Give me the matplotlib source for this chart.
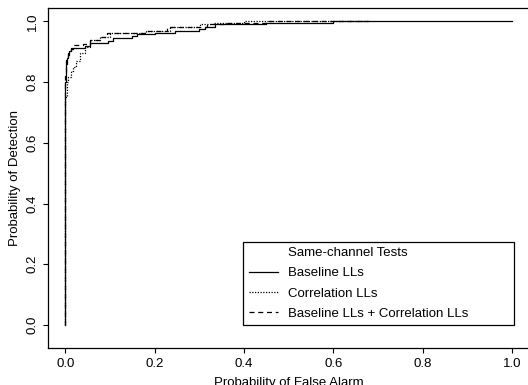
import matplotlib
matplotlib.use("Agg")
import matplotlib.pyplot as plt
from matplotlib.lines import Line2D

plt.rcParams['font.family'] = ['Liberation Sans', 'DejaVu Sans']

# Baseline LLs (solid)
base_fa = [0.0, 0.0, 0.001, 0.003, 0.005, 0.008, 0.012, 0.044, 0.055, 0.096, 0.107,
           0.150, 0.160, 0.200, 0.246, 0.300, 0.313, 0.335, 0.45, 0.60, 1.0]
base_pd = [0.0, 0.80, 0.86, 0.88, 0.895, 0.903, 0.911, 0.918, 0.927, 0.935, 0.944,
           0.950, 0.957, 0.962, 0.969, 0.975, 0.982, 0.991, 0.996, 1.0, 1.0]

# Correlation LLs (dotted)
corr_fa = [0.0, 0.0, 0.003, 0.007, 0.012, 0.018, 0.025, 0.033, 0.044, 0.055, 0.078,
           0.100, 0.165, 0.180, 0.234, 0.302, 0.330, 0.40, 0.68]
corr_pd = [0.0, 0.75, 0.80, 0.818, 0.835, 0.85, 0.87, 0.895, 0.916, 0.938, 0.949,
           0.960, 0.962, 0.969, 0.980, 0.991, 0.995, 1.0, 1.0]

# Baseline LLs + Correlation LLs (dashed)
comb_fa = [0.0, 0.0, 0.002, 0.005, 0.008, 0.012, 0.018, 0.040, 0.055, 0.078, 0.093,
           0.160, 0.180, 0.227, 0.317, 0.361, 0.45, 0.68]
comb_pd = [0.0, 0.82, 0.872, 0.89, 0.90, 0.91, 0.922, 0.925, 0.94, 0.947, 0.96,
           0.962, 0.969, 0.982, 0.990, 0.995, 1.0, 1.0]

ticks = [0.0, 0.2, 0.4, 0.6, 0.8, 1.0]
tick_labels = ["0.0", "0.2", "0.4", "0.6", "0.8", "1.0"]
legend_title = "Same-channel Tests"
series_labels = ["Baseline LLs", "Correlation LLs", "Baseline LLs + Correlation LLs"]
xlabel = "Probability of False Alarm"
ylabel = "Probability of Detection"

W, H = 528, 385
FS = 9.5
fig = plt.figure(figsize=(W / 100, H / 100), dpi=100)
left, right, top, bottom = 47.5, 530.0, 8.0, 348.0
ax = fig.add_axes([left / W, (H - bottom) / H, (right - left) / W, (bottom - top) / H])

lw = 0.9
dot = (0, (1, 1.2))
dash = (0, (4, 3))
ax.plot(base_fa, base_pd, color='black', lw=lw, ls='-', drawstyle='steps-post')
ax.plot(corr_fa, corr_pd, color='black', lw=lw, ls=dot, drawstyle='steps-post')
ax.plot(comb_fa, comb_pd, color='black', lw=lw, ls=dash, drawstyle='steps-post')

ax.set_xlim(-0.0398, 1.04)
ax.set_ylim(-0.0757, 1.0438)
ax.set_xticks(ticks)
ax.set_xticklabels(tick_labels)
ax.set_yticks(ticks)
ax.set_yticklabels(tick_labels, rotation=90, va='center')
ax.tick_params(direction='out', length=3.5, width=0.8, labelsize=FS, colors='black')
ax.tick_params(axis='x', pad=3.5)
ax.tick_params(axis='y', pad=3.0)
for s in ax.spines.values():
    s.set_linewidth(0.9)

fig.text(288.7 / W, (H - 386.0) / H, xlabel, fontsize=FS, ha='center', va='baseline')
fig.text(15.0 / W, (H - 178.0) / H, ylabel, fontsize=FS, ha='center', va='center', rotation=90)

handles = [Line2D([], [], color='none'),
           Line2D([], [], color='black', lw=lw, ls='-'),
           Line2D([], [], color='black', lw=lw, ls=dot),
           Line2D([], [], color='black', lw=lw, ls=dash)]
labels = [legend_title] + series_labels
leg_l, leg_r, leg_t = 243.3, 514.0, 241.7
leg = ax.legend(handles, labels, loc='upper left',
                bbox_to_anchor=((leg_l - left) / (right - left), (bottom - leg_t) / (bottom - top),
                                (leg_r - leg_l) / (right - left), 0.0),
                mode='expand', fontsize=FS, frameon=True, fancybox=False, edgecolor='black',
                framealpha=1, handlelength=2.25, handletextpad=0.76, borderpad=0.4,
                labelspacing=0.61, borderaxespad=0)
leg.get_frame().set_linewidth(0.9)

fig.savefig("out.png", dpi=100)
